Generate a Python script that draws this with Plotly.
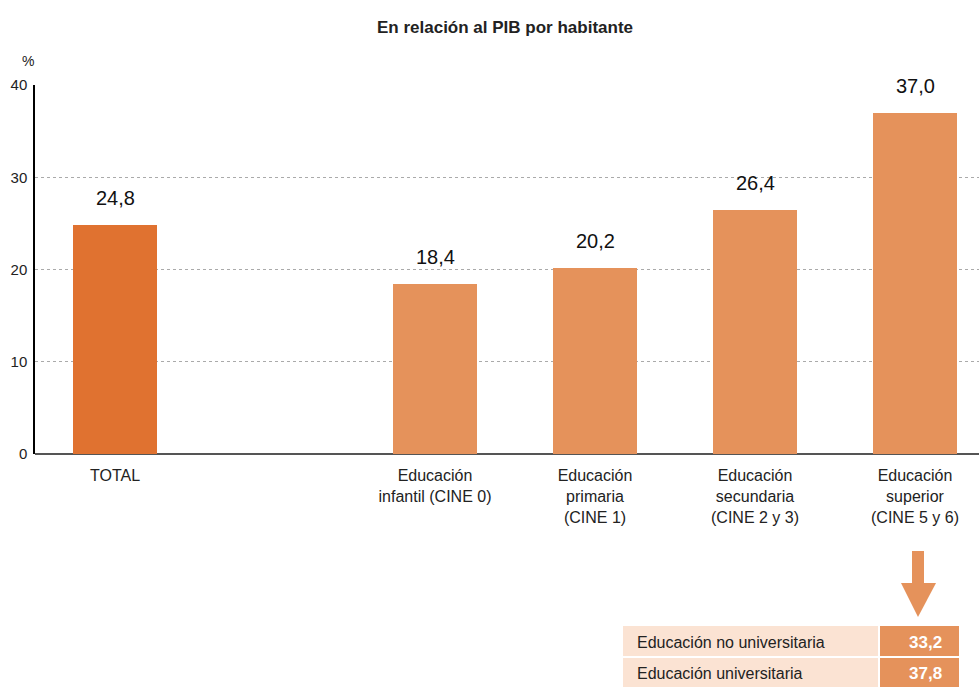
import plotly.graph_objects as go

categories = ["TOTAL", "Educación<br>infantil (CINE 0)", "Educación<br>primaria<br>(CINE 1)",
              "Educación<br>secundaria<br>(CINE 2 y 3)", "Educación<br>superior<br>(CINE 5 y 6)"]
positions = [0, 2, 3, 4, 5]
values = [24.8, 18.4, 20.2, 26.4, 37.0]
bar_colors = ["#E07230", "#E5925B", "#E5925B", "#E5925B", "#E5925B"]
y_ticks = [0, 10, 20, 30, 40]

table_labels = ["Educación no universitaria", "Educación universitaria"]
table_values = [33.2, 37.8]

W, H = 979, 687
L, R, T, B = 35, 0, 85, 233
PW, PH = W - L - R, H - T - B


def px(x):
    return (x - L) / PW


def py(y):
    return (H - B - y) / PH


def fmt(v):
    return f"{v:.1f}".replace(".", ",")


fig = go.Figure()
fig.add_trace(go.Bar(
    x=positions, y=values, width=0.53, marker=dict(color=bar_colors, line_width=0),
    hoverinfo="skip", showlegend=False,
))

annotations = []
for x, v in zip(positions, values):
    annotations.append(dict(x=x, y=v, xref="x", yref="y", text=fmt(v), showarrow=False,
                            yshift=27, font=dict(family="Liberation Sans", size=20, color="#111111")))

annotations.append(dict(x=px(505), y=py(27), xref="paper", yref="paper", yanchor="middle",
                        text="<b>En relación al PIB por habitante</b>",
                        showarrow=False, font=dict(family="Liberation Sans", size=17, color="#222222")))
annotations.append(dict(x=px(20), y=py(61), xref="paper", yref="paper", yanchor="middle", text="%",
                        showarrow=False, font=dict(family="Liberation Sans", size=14, color="#222222")))

shapes = []
# arrow
shapes.append(dict(type="rect", xref="paper", yref="paper", x0=px(912), x1=px(924), y0=py(584), y1=py(551),
                   fillcolor="#E5925B", line_width=0))
shapes.append(dict(type="path", xref="paper", yref="paper",
                   path=f"M {px(901)} {py(583)} L {px(936)} {py(583)} L {px(918)} {py(617)} Z",
                   fillcolor="#E5925B", line_width=0))

rows = [(626, 656), (658, 687)]
for (y0, y1), lab, val in zip(rows, table_labels, table_values):
    shapes.append(dict(type="rect", xref="paper", yref="paper", x0=px(623), x1=px(878), y0=py(y1), y1=py(y0),
                       fillcolor="#FBE3D3", line_width=0))
    shapes.append(dict(type="rect", xref="paper", yref="paper", x0=px(880), x1=px(959), y0=py(y1), y1=py(y0),
                       fillcolor="#E5925B", line_width=0))
    annotations.append(dict(x=px(635), y=py((y0 + y1) / 2 + 1), xref="paper", yref="paper", text=lab,
                            showarrow=False, xanchor="left", yanchor="middle",
                            font=dict(family="Liberation Sans", size=16, color="#222222")))
    annotations.append(dict(x=px(944), y=py((y0 + y1) / 2 + 1), xref="paper", yref="paper",
                            text=f"<b>{fmt(val)}</b>", showarrow=False, xanchor="right", yanchor="middle",
                            font=dict(family="Liberation Sans", size=17, color="#FFFFFF")))

fig.update_layout(
    width=W, height=H, margin=dict(l=L, r=R, t=T, b=B, autoexpand=False),
    paper_bgcolor="white", plot_bgcolor="white",
    xaxis=dict(range=[-0.5, 5.4], tickvals=positions, ticktext=categories, showgrid=False,
               zeroline=False, showline=False, ticks="", ticklabelstandoff=10,
               tickfont=dict(family="Liberation Sans", size=16, color="#222222")),
    yaxis=dict(range=[0, 40], tickvals=y_ticks, showgrid=True, gridcolor="#AAAAAA", griddash="dot",
               gridwidth=1, zeroline=True, zerolinecolor="#555555", zerolinewidth=1.5,
               showline=True, linecolor="#000000", linewidth=1.5, ticks="", ticklabelstandoff=3,
               tickfont=dict(family="Liberation Sans", size=15, color="#222222")),
    annotations=annotations, shapes=shapes, bargap=0,
)

fig.write_html("out.html", config={"displayModeBar": False},
               post_script="document.body.style.margin='0';document.body.style.overflow='hidden';")
